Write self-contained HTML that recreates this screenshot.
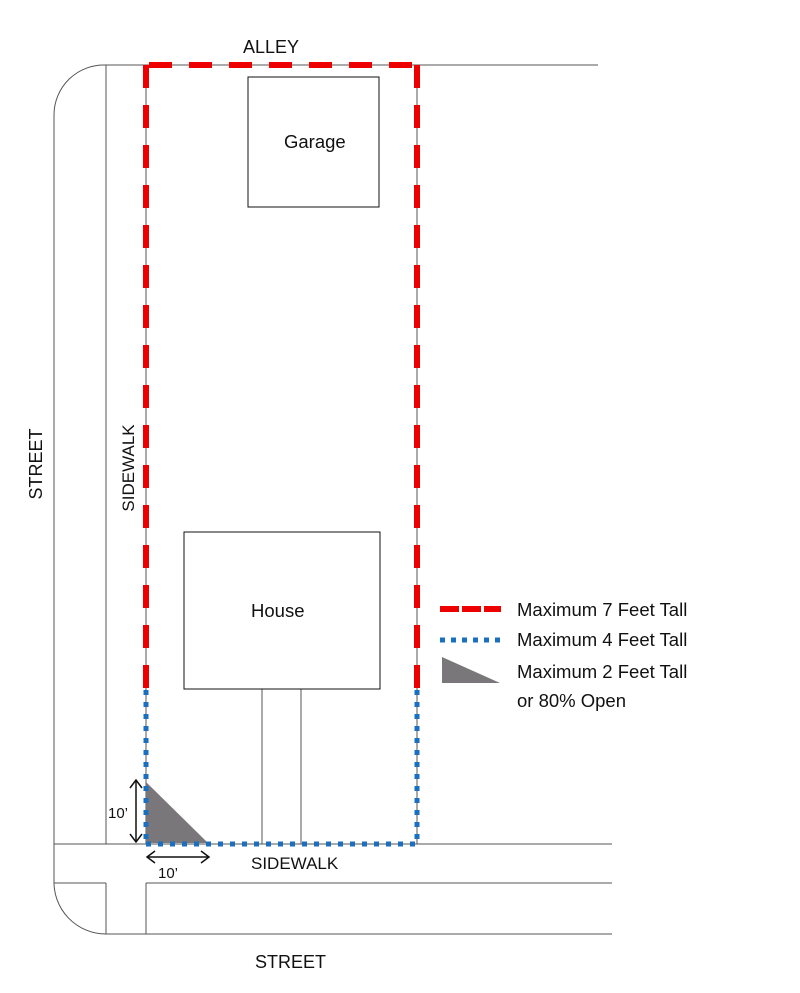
<!DOCTYPE html>
<html><head><meta charset="utf-8"><style>
body{margin:0;background:#fff}
svg text{font-family:"Liberation Sans",sans-serif;fill:#111}
</style></head><body>
<svg width="800" height="988" viewBox="0 0 800 988" xmlns="http://www.w3.org/2000/svg">
<g stroke="#555" stroke-width="1" fill="none">
<path d="M54 880 V115 A50 50 0 0 1 106 65 H598"/>
<line x1="106" y1="65" x2="106" y2="844"/>
<line x1="146" y1="65" x2="146" y2="844"/>
<line x1="54" y1="844" x2="612" y2="844"/>
<line x1="54" y1="883" x2="106" y2="883"/>
<line x1="146" y1="883" x2="612" y2="883"/>
<line x1="106" y1="883" x2="106" y2="934"/>
<line x1="146" y1="883" x2="146" y2="934"/>
<path d="M54 880 A52 52 0 0 0 106 934 H612"/>
<line x1="262" y1="689" x2="262" y2="844"/>
<line x1="301" y1="689" x2="301" y2="844"/>
<line x1="417" y1="65" x2="417" y2="844"/>
</g>
<rect x="248" y="77" width="131" height="130" fill="#fff" stroke="#111"/>
<rect x="184" y="532" width="196" height="157" fill="#fff" stroke="#111"/>
<polygon points="146,782 146,843 208,843" fill="#7a777a"/>
<g stroke="#e00" stroke-width="6" fill="none" stroke-dasharray="23 17">
<line x1="146" y1="65" x2="146" y2="690"/>
<line x1="417" y1="65" x2="417" y2="690"/>
<line x1="149" y1="65" x2="417" y2="65"/>
</g>
<g stroke="#1a6fc0" stroke-width="5" fill="none" stroke-dasharray="5 7">
<line x1="146" y1="690" x2="146" y2="844"/>
<line x1="417" y1="690" x2="417" y2="844"/>
<line x1="146" y1="844" x2="420" y2="844"/>
</g>
<g stroke="#111" stroke-width="1.5" fill="none">
<line x1="136" y1="780" x2="136" y2="842"/>
<polyline points="130,788 136,780 142,788"/>
<polyline points="130,834 136,842 142,834"/>
<line x1="147" y1="857" x2="209" y2="857"/>
<polyline points="155,851 147,857 155,863"/>
<polyline points="201,851 209,857 201,863"/>
</g>
<line x1="440" y1="609" x2="501" y2="609" stroke="#e00" stroke-width="6" stroke-dasharray="19 3"/>
<line x1="440" y1="640" x2="501" y2="640" stroke="#1a6fc0" stroke-width="5" stroke-dasharray="5 6"/>
<polygon points="442,657 442,683 500,683" fill="#7a777a"/>
<g font-size="18.5">
<text x="243" y="53" font-size="18">ALLEY</text>
<text x="284" y="148">Garage</text>
<text x="251" y="617">House</text>
<text x="251" y="869" font-size="17">SIDEWALK</text>
<text x="255" y="968" font-size="18">STREET</text>
<text x="158" y="878" font-size="15">10’</text>
<text x="108" y="818" font-size="15">10’</text>
<text transform="translate(42,464) rotate(-90)" text-anchor="middle" font-size="18">STREET</text>
<text transform="translate(134,468) rotate(-90)" text-anchor="middle" font-size="17">SIDEWALK</text>
<text x="517" y="616">Maximum 7 Feet Tall</text>
<text x="517" y="646">Maximum 4 Feet Tall</text>
<text x="517" y="678">Maximum 2 Feet Tall</text>
<text x="517" y="707">or 80% Open</text>
</g>
</svg>
</body></html>
